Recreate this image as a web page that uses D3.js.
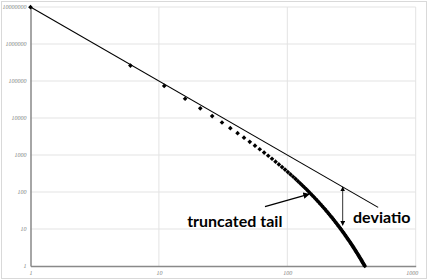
<!DOCTYPE html>
<html>
<head>
<meta charset="utf-8">
<script src="https://cdn.jsdelivr.net/npm/d3@7"></script>
<style>
  body { margin: 0; background: #fff; }
  .tick-label { font-family: 'Liberation Serif', serif; font-style: italic; font-size: 6px; fill: #7f7f7f; }
  .note { font-family: Lato, 'Open Sans', sans-serif; font-weight: bold; font-size: 16px; fill: #000; }
</style>
</head>
<body>
<div id="chart"></div>
<script>
'use strict';

// ranks (x) of the observed points
var pointX = [ 1, 6, 11, 16, 21, 26, 31, 36, 41, 46, 51, 56, 61, 66, 71, 76, 81, 86, 91, 96,
  101, 106, 111, 116, 121, 126, 131, 136, 141, 146, 151, 156, 161, 166, 171, 176, 181, 186, 191, 196,
  201, 206, 211, 216, 221, 226, 231, 236, 241, 246, 251, 256, 261, 266, 271, 276, 281, 286, 291, 296,
  301, 306, 311, 316, 321, 326, 331, 336, 341, 346, 351, 356, 361, 366, 371, 376, 381, 386, 391, 396, 401 ];

var pointY = [ 9900000, 261000, 73800, 33100, 18300, 11300, 7560, 5320, 3900, 2940, 2270, 1790, 1430, 1160, 954, 791, 661, 557, 473, 403,
  346, 298, 258, 225, 196, 172, 151, 133, 118, 104, 92.5, 82.3, 73.4, 65.5, 58.7, 52.6, 47.2, 42.5, 38.3, 34.5,
  31.2, 28.2, 25.5, 23.1, 21.0, 19.1, 17.3, 15.8, 14.4, 13.1, 11.9, 10.9, 9.95, 9.10, 8.33, 7.63, 6.99, 6.41, 5.88, 5.40,
  4.96, 4.56, 4.19, 3.85, 3.55, 3.27, 3.01, 2.78, 2.56, 2.36, 2.18, 2.01, 1.86, 1.72, 1.59, 1.47, 1.36, 1.26, 1.16, 1.08, 1.00 ];

// straight power-law reference line
var lineX = [ 1, 510 ];
var lineY = [ 10000000, 38.4 ];

var xTicks = [ 1, 10, 100, 1000 ];
var yTicks = [ 1, 10, 100, 1000, 10000, 100000, 1000000, 10000000 ];

// annotations in data units
var tailArrow = { x1: 67, y1: 40, x2: 148, y2: 88 };
var devArrow = { x: 270, y1: 137, y2: 12.6 };
var tailLabel = { x: 16.6, y: 11.3, text: 'truncated tail' };
var devLabel = { x: 325, y: 14.1, text: 'deviatio' };

var width = 428,
    height = 280,
    margin = { top: 7, right: 12.3, bottom: 14, left: 30.5 };

var x = d3.scaleLog()
    .domain( [ 1, 1000 ] )
    .range( [ margin.left, width - margin.right ] );

var y = d3.scaleLog()
    .domain( [ 1, 10000000 ] )
    .range( [ height - margin.bottom, margin.top ] );

var svg = d3.select( '#chart' )
  .append( 'svg' )
    .attr( 'width', width )
    .attr( 'height', height );

// arrow heads
var defs = svg.append( 'defs' );
defs.append( 'marker' )
    .attr( 'id', 'head' )
    .attr( 'viewBox', '0 0 10 10' )
    .attr( 'refX', 9 )
    .attr( 'refY', 5 )
    .attr( 'markerWidth', 5 )
    .attr( 'markerHeight', 5 )
    .attr( 'orient', 'auto-start-reverse' )
  .append( 'path' )
    .attr( 'd', 'M0,0 L10,5 L0,10 z' )
    .attr( 'fill', '#000' );

// chart area border
svg.append( 'rect' )
    .attr( 'x', 1.5 )
    .attr( 'y', 1.5 )
    .attr( 'width', width - 3 )
    .attr( 'height', height - 3 )
    .attr( 'fill', 'none' )
    .attr( 'stroke', '#d9d9d9' );

// gridlines
svg.append( 'g' )
  .selectAll( 'line' )
  .data( yTicks.slice( 1 ) )
  .join( 'line' )
    .attr( 'x1', margin.left )
    .attr( 'x2', width - margin.right )
    .attr( 'y1', function( d ) { return y( d ); } )
    .attr( 'y2', function( d ) { return y( d ); } )
    .attr( 'stroke', '#e3e3e3' );

svg.append( 'g' )
  .selectAll( 'line' )
  .data( xTicks.slice( 1 ) )
  .join( 'line' )
    .attr( 'x1', function( d ) { return x( d ); } )
    .attr( 'x2', function( d ) { return x( d ); } )
    .attr( 'y1', margin.top )
    .attr( 'y2', height - margin.bottom )
    .attr( 'stroke', '#e3e3e3' );

// axes
svg.append( 'g' )
    .attr( 'transform', 'translate(0,' + ( height - margin.bottom ) + ')' )
    .call( d3.axisBottom( x ).tickValues( xTicks ).tickSize( 0 ).tickPadding( 5 ).tickFormat( d3.format( 'd' ) ) )
    .call( function( g ) {
      g.select( '.domain' ).attr( 'stroke', '#898989' ).attr( 'stroke-width', 1.5 );
      g.selectAll( 'text' ).attr( 'class', 'tick-label' ).attr( 'font-family', null ).attr( 'font-size', null ).attr( 'fill', null );
      g.selectAll( 'text' ).filter( function( d ) { return d === 1000; } ).attr( 'text-anchor', 'end' ).attr( 'dx', '2' );
    } );

svg.append( 'g' )
    .attr( 'transform', 'translate(' + margin.left + ',0)' )
    .call( d3.axisLeft( y ).tickValues( yTicks ).tickSize( 0 ).tickPadding( 4 ).tickFormat( d3.format( 'd' ) ) )
    .call( function( g ) {
      g.select( '.domain' ).attr( 'stroke', '#898989' ).attr( 'stroke-width', 1.5 );
      g.selectAll( 'text' ).attr( 'class', 'tick-label' ).attr( 'font-family', null ).attr( 'font-size', null ).attr( 'fill', null );
    } );

// power-law line
var line = d3.line()
    .x( function( d, i ) { return x( lineX[i] ); } )
    .y( function( d ) { return y( d ); } );

svg.append( 'path' )
    .attr( 'd', line( lineY ) )
    .attr( 'fill', 'none' )
    .attr( 'stroke', '#000' )
    .attr( 'stroke-width', 1.1 );

// observed points
var diamond = d3.symbol().type( d3.symbolSquare ).size( 11 );
svg.append( 'g' )
  .selectAll( 'path' )
  .data( pointY )
  .join( 'path' )
    .attr( 'd', diamond )
    .attr( 'transform', function( d, i ) {
      return 'translate(' + x( pointX[i] ) + ',' + y( d ) + ') rotate(45)';
    } )
    .attr( 'fill', '#000' );

// annotations
svg.append( 'line' )
    .attr( 'x1', x( tailArrow.x1 ) )
    .attr( 'y1', y( tailArrow.y1 ) )
    .attr( 'x2', x( tailArrow.x2 ) )
    .attr( 'y2', y( tailArrow.y2 ) )
    .attr( 'stroke', '#000' )
    .attr( 'stroke-width', 1.3 )
    .attr( 'marker-end', 'url(#head)' );

svg.append( 'line' )
    .attr( 'x1', x( devArrow.x ) )
    .attr( 'y1', y( devArrow.y1 ) )
    .attr( 'x2', x( devArrow.x ) )
    .attr( 'y2', y( devArrow.y2 ) )
    .attr( 'stroke', '#333' )
    .attr( 'stroke-width', 1 )
    .attr( 'marker-start', 'url(#head)' )
    .attr( 'marker-end', 'url(#head)' );

svg.selectAll( 'text.note' )
  .data( [ tailLabel, devLabel ] )
  .join( 'text' )
    .attr( 'class', 'note' )
    .attr( 'x', function( d ) { return x( d.x ); } )
    .attr( 'y', function( d ) { return y( d.y ); } )
    .text( function( d ) { return d.text; } );
</script>
</body>
</html>
